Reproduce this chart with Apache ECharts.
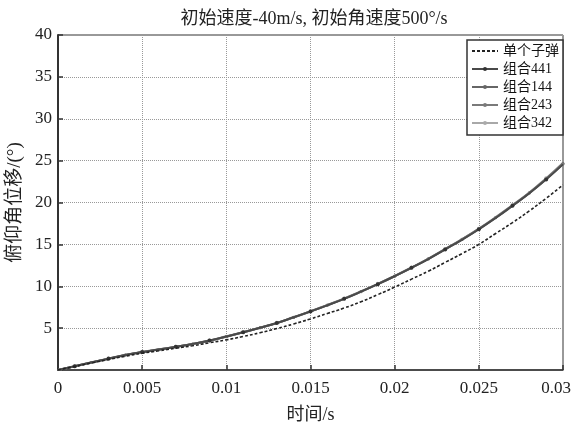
<!DOCTYPE html>
<html>
<head>
<meta charset="utf-8">
<script src="https://cdn.jsdelivr.net/npm/echarts@6/dist/echarts.min.js"></script>
<style>
html,body{margin:0;padding:0;background:#fff;}
#c{width:572px;height:427px;}
</style>
</head>
<body>
<div id="c"></div>
<script>
const times = [0,0.001,0.002,0.003,0.004,0.005,0.006,0.007,0.008,0.009,0.010,0.011,0.012,0.013,0.014,0.015,0.016,0.017,0.018,0.019,0.020,0.021,0.022,0.023,0.024,0.025,0.026,0.027,0.028,0.029,0.030];
const single = [0,0.42,0.84,1.25,1.65,2.0,2.3,2.6,2.9,3.25,3.6,4.0,4.45,4.95,5.5,6.1,6.75,7.4,8.15,9.0,9.9,10.85,11.8,12.85,13.9,15.0,16.3,17.6,19.0,20.5,22.1];
const combo441 = [0,0.46,0.92,1.36,1.8,2.15,2.45,2.78,3.12,3.52,4.0,4.5,5.05,5.62,6.3,7.0,7.72,8.5,9.35,10.25,11.2,12.2,13.25,14.4,15.55,16.8,18.15,19.6,21.1,22.75,24.55];
const combo144 = [0,0.45,0.9,1.35,1.78,2.14,2.46,2.76,3.1,3.5,3.98,4.5,5.04,5.6,6.28,6.98,7.74,8.52,9.36,10.26,11.22,12.22,13.28,14.42,15.6,16.85,18.2,19.65,21.15,22.85,24.65];
const combo243 = [0,0.45,0.9,1.34,1.78,2.13,2.44,2.75,3.1,3.5,3.99,4.49,5.04,5.6,6.3,7.0,7.75,8.5,9.35,10.25,11.2,12.2,13.26,14.4,15.58,16.82,18.18,19.62,21.12,22.8,24.6];
const combo342 = [0,0.44,0.88,1.33,1.77,2.16,2.47,2.77,3.12,3.52,4.02,4.52,5.06,5.63,6.32,7.02,7.78,8.55,9.4,10.3,11.25,12.25,13.3,14.45,15.62,16.88,18.25,19.7,21.2,22.9,24.75];
const xTicks = [0,0.005,0.01,0.015,0.02,0.025,0.03];
const yTicks = [0,5,10,15,20,25,30,35,40];
const names = ['单个子弹','组合441','组合144','组合243','组合342'];

const serif = 'Liberation Serif, "Noto Sans CJK SC", serif';

function withMarkers(vals, offset) {
  return times.map((x, k) => {
    const show = k > 0 && (k % 2 === offset);
    return show ? { value: [x, vals[k]] } : { value: [x, vals[k]], symbol: 'none' };
  });
}

const chart = echarts.init(document.getElementById('c'));
chart.setOption({
  animation: false,
  backgroundColor: '#fff',
  title: {
    text: '初始速度-40m/s, 初始角速度500°/s',
    left: 309, top: 5, textAlign: 'center',
    textStyle: { fontFamily: serif, fontSize: 18, fontWeight: 'normal', color: '#222' }
  },
  grid: {
    left: 58, right: 9, top: 35, bottom: 57,
    outerBoundsMode: 'none', containLabel: false,
    show: true, borderColor: '#333', borderWidth: 1, backgroundColor: '#fff'
  },
  legend: {
    orient: 'vertical', left: 467, top: 40,
    data: [
      { name: names[0], itemStyle: { opacity: 0 } },
      names[1], names[2], names[3], names[4]
    ],
    backgroundColor: '#fff', borderColor: '#333', borderWidth: 1.5, borderRadius: 0,
    padding: [3, 4, 4, 4], itemGap: 2, itemWidth: 26, itemHeight: 5,
    textStyle: { fontFamily: serif, fontSize: 14, color: '#111', lineHeight: 16 }
  },
  xAxis: {
    type: 'value', min: 0, max: 0.03, interval: 0.005,
    name: '时间/s', nameLocation: 'middle', nameGap: 36,
    nameTextStyle: { fontFamily: serif, fontSize: 18, color: '#222' },
    axisLine: { show: true, lineStyle: { color: '#333', width: 1.5 } },
    axisTick: { show: true, inside: true, length: 5, lineStyle: { color: '#333', width: 1.5 } },
    axisLabel: { fontFamily: serif, fontSize: 17, color: '#222', margin: 10,
      rich: { m: { fontFamily: serif, fontSize: 17, color: '#222', padding: [0, 14, 0, 0] } },
      formatter: v => {
        const t = xTicks.find(a => Math.abs(a - v) < 1e-9);
        if (t === undefined) return '';
        return t === xTicks[xTicks.length - 1] ? '{m|' + t + '}' : String(t);
      } },
    splitLine: { show: true, lineStyle: { type: 'dotted', color: '#999', width: 1 } }
  },
  yAxis: {
    type: 'value', min: 0, max: 40, interval: 5,
    name: '俯仰角位移/(°)', nameLocation: 'middle', nameGap: 32,
    nameTextStyle: { fontFamily: serif, fontSize: 19, color: '#222' },
    axisLine: { show: true, lineStyle: { color: '#333', width: 2 } },
    axisTick: { show: true, inside: true, length: 5, lineStyle: { color: '#333', width: 1.5 } },
    axisLabel: { fontFamily: serif, fontSize: 17, color: '#222', margin: 6,
      formatter: v => (v === 0 ? '' : String(yTicks.find(a => a === v))) },
    splitLine: { show: true, lineStyle: { type: 'dotted', color: '#999', width: 1 } }
  },
  series: [
    { name: names[0], type: 'line', smooth: true, symbol: 'none',
      data: times.map((x, k) => [x, single[k]]),
      lineStyle: { color: '#222', width: 1.6, type: [3, 2] }, itemStyle: { color: '#222' }, z: 5 },
    { name: names[1], type: 'line', smooth: true, symbol: 'circle', symbolSize: 4,
      data: withMarkers(combo441, 1),
      lineStyle: { color: '#4a4a4a', width: 2 }, itemStyle: { color: '#333' }, z: 4 },
    { name: names[2], type: 'line', smooth: true, symbol: 'circle', symbolSize: 3,
      data: withMarkers(combo144, 0),
      lineStyle: { color: '#666', width: 2 }, itemStyle: { color: '#666' }, z: 3 },
    { name: names[3], type: 'line', smooth: true, symbol: 'circle', symbolSize: 3,
      data: withMarkers(combo243, 0),
      lineStyle: { color: '#7a7a7a', width: 2 }, itemStyle: { color: '#7a7a7a' }, z: 3 },
    { name: names[4], type: 'line', smooth: true, symbol: 'circle', symbolSize: 4,
      data: withMarkers(combo342, 1),
      lineStyle: { color: '#a8a8a8', width: 2 }, itemStyle: { color: '#aaa' }, z: 2 }
  ]
});
</script>
</body>
</html>
